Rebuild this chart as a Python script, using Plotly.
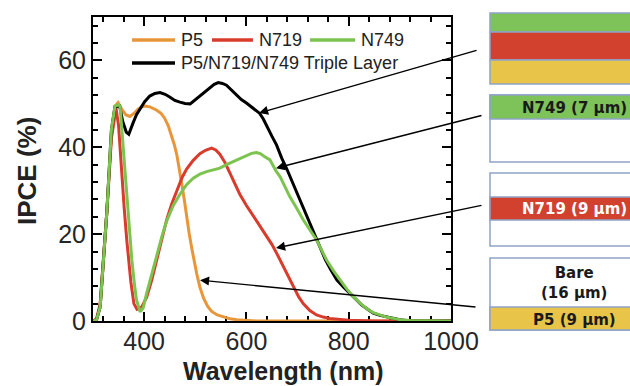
import plotly.graph_objects as go

# ---------------- data ----------------
wl_p5 = [300, 307, 314, 320, 327, 336, 343, 349, 356, 364, 372, 380, 388, 395, 402, 411, 424, 433, 440, 447, 453,
         459, 464, 469, 474, 479, 483, 488, 493, 498, 503, 509, 516, 524, 532, 543, 555, 568, 581, 600, 620, 700, 800, 900, 1000]
ipce_p5 = [0, 0.3, 3.3, 13, 25, 43, 49.5, 50.3, 48.8, 47.5, 47.1, 47.8, 48.8, 49.3, 49.5, 49.3, 48.6, 47.8, 46.7, 45.0, 42.8,
           40.6, 38.2, 35, 31.3, 27.5, 24.0, 20.2, 16.8, 13.6, 10.8, 7.8, 5.3, 3.4, 2.2, 1.4, 0.9, 0.5, 0.3, 0.1, 0, 0, 0, 0, 0]

wl_n719 = [300, 307, 314, 320, 327, 336, 345, 350, 356, 361, 366, 374, 380, 386, 395, 405, 415, 425, 435, 444, 454,
           464, 474, 483, 496, 509, 520, 532, 540, 548, 558, 568, 578, 587, 600, 613, 626, 639, 650, 660, 672, 682,
           692, 702, 711, 724, 737, 750, 763, 800, 850, 1000]
ipce_n719 = [0, 0.5, 4, 13, 25, 42, 49, 45, 34, 26, 18.7, 9, 4, 2.7, 3.2, 5.5, 9.5, 14, 19, 23.3, 27,
             30, 33, 35, 37, 38.5, 39.3, 39.8, 39.4, 38.4, 36.5, 34, 31.4, 29.2, 26.6, 24.3, 22.0, 19.6, 17.6, 15.4, 12.6, 10.1,
             7.7, 5.6, 4.0, 2.4, 1.4, 0.9, 0.6, 0.2, 0, 0]

wl_n749 = [300, 307, 314, 320, 327, 336, 343, 350, 353, 356, 361, 366, 371, 376, 381, 385, 392, 398, 405, 415, 425,
           435, 444, 457, 470, 483, 496, 509, 522, 535, 548, 561, 574, 587, 600, 610, 620, 628, 636, 646, 652, 658,
           666, 675, 685, 698, 711, 724, 737, 747, 757, 770, 783, 796, 809, 822, 835, 848, 861, 874, 887, 900, 920, 1000]
ipce_n749 = [0, 0.3, 3.3, 13, 25, 44, 49.5, 49.8, 49.5, 44.7, 37, 29.4, 21.5, 14, 8.5, 4.9, 2.1, 3, 6.4, 11, 15.6,
             19.6, 23.0, 26.6, 29.2, 31.4, 32.9, 33.8, 34.4, 34.8, 35.2, 36, 36.7, 37.5, 38.2, 38.6, 38.8, 38.5, 37.8, 37.1, 35.8, 34.5,
             33.2, 31, 28.6, 26, 23.3, 21, 18.7, 16.3, 14, 11.6, 9.4, 7.4, 5.6, 4.1, 2.9, 1.9, 1.4, 0.9, 0.6, 0.3, 0.1, 0]

wl_triple = [300, 307, 314, 320, 327, 336, 343, 352, 358, 365, 370, 378, 385, 392, 401, 411, 421, 431, 441, 450,
             460, 470, 480, 490, 500, 509, 520, 529, 537, 545, 553, 561, 571, 581, 590, 600, 613, 626, 633, 640, 650,
             659, 669, 679, 689, 698, 708, 718, 728, 737, 746, 754, 765, 777, 790, 802, 814, 825, 837, 848, 861, 874,
             886, 900, 920, 1000]
ipce_triple = [0, 0.3, 3.3, 13, 25, 44, 49.3, 49.5, 46, 43.5, 43, 45.5, 47.5, 48.8, 50.5, 51.8, 52.4, 52.6, 52.2, 51.6,
               50.8, 50.4, 50.1, 50.0, 51, 51.8, 53, 53.8, 54.5, 54.9, 54.7, 54.3, 53.2, 52.0, 51, 50.2, 49, 47.8, 46.5, 44.7, 42.5,
               40.5, 37.5, 35, 32.2, 29.5, 26.8, 24, 21.3, 18.7, 16.3, 14.2, 11.8, 9.4, 7.8, 6.4, 5, 3.7, 2.7, 1.8, 1.3, 1.0,
               0.6, 0.3, 0, 0]

series_names = ["P5", "N719", "N749", "P5/N719/N749 Triple Layer"]
x_ticks = [400, 600, 800, 1000]
y_ticks = [0, 20, 40, 60]

# layer-stack labels
stack_labels = ["N749 (7 µm)", "N719 (9 µm)", "Bare<br>(16 µm)", "P5 (9 µm)"]

# ---------------- styling ----------------
C_P5 = "#E8963A"
C_N719 = "#D73C2D"
C_N749 = "#7DC350"
C_TRIPLE = "#000000"
F_GREEN = "#7DC35A"
F_RED = "#D2412D"
F_YELLOW = "#E8C448"
BORDER = "#8FA2C6"

W, H = 630, 386
L, R, T, B = 93, 451, 17, 321  # plot area in pixels


def PX(px):
    return (px - L) / (R - L)


def PY(py):
    return (B - py) / (B - T)


fig = go.Figure()
order = [(wl_p5, ipce_p5, C_P5, series_names[0]),
         (wl_n719, ipce_n719, C_N719, series_names[1]),
         (wl_triple, ipce_triple, C_TRIPLE, series_names[3]),
         (wl_n749, ipce_n749, C_N749, series_names[2])]
for xs, ys, col, nm in order:
    fig.add_trace(go.Scatter(x=xs, y=ys, mode="lines", name=nm,
                             line=dict(color=col, width=3),
                             showlegend=False))

axis_common = dict(showline=True, linecolor="black", linewidth=2, mirror="allticks",
                   ticks="inside", ticklen=9, tickwidth=2, tickcolor="black",
                   showgrid=False, zeroline=False,
                   tickfont=dict(family="Liberation Sans, Arial", size=25, color="#262626"),
                   layer="below traces")

fig.update_xaxes(range=[300, 1000], tickvals=x_ticks, ticklabelstandoff=-3,
                 minor=dict(dtick=40, ticks="inside", ticklen=5, tickwidth=1.5, tickcolor="black", showgrid=False),
                 **axis_common)
fig.update_yaxes(range=[0, 70], tickvals=y_ticks,
                 minor=dict(dtick=4, ticks="inside", ticklen=5, tickwidth=1.5, tickcolor="black", showgrid=False),
                 **axis_common)

shapes = []
annotations = []

# ---------- manual legend ----------
legend_items = [(132, 175, 40, C_P5, series_names[0]),
                (212, 253, 40, C_N719, series_names[1]),
                (310, 355, 40, C_N749, series_names[2]),
                (132, 175, 63, C_TRIPLE, series_names[3])]
for x0, x1, yy, col, nm in legend_items:
    shapes.append(dict(type="line", xref="paper", yref="paper", x0=PX(x0), x1=PX(x1), y0=PY(yy), y1=PY(yy),
                       line=dict(color=col, width=3.5)))
    annotations.append(dict(xref="paper", yref="paper", x=PX(x1 + 4), y=PY(yy), xanchor="left", yanchor="middle",
                            text=nm, showarrow=False,
                            font=dict(family="Liberation Sans, Arial", size=18, color="#222222")))

# ---------- axis titles ----------
annotations.append(dict(xref="paper", yref="paper", x=PX(283), y=PY(386), xanchor="center", yanchor="bottom",
                        text="<b>Wavelength (nm)</b>", showarrow=False, borderpad=0,
                        font=dict(family="Liberation Sans, Arial", size=25, color="#222222")))
annotations.append(dict(xref="paper", yref="paper", x=PX(27), y=PY(171), xanchor="center", yanchor="middle",
                        text="<b>IPCE (%)</b>", showarrow=False, textangle=-90,
                        font=dict(family="Liberation Sans, Arial", size=26, color="#222222")))

# ---------- layer stack boxes ----------
BX0, BX1 = 490, 665


def rect(y0, y1, fill):
    shapes.append(dict(type="rect", xref="paper", yref="paper", x0=PX(BX0), x1=PX(BX1), y0=PY(y1), y1=PY(y0),
                       fillcolor=fill, line=dict(color=BORDER, width=1.5),
                       layer="above"))


# box 1: triple layer
rect(13, 32, F_GREEN)
rect(32, 60, F_RED)
rect(60, 84, F_YELLOW)
# box 2: N749
rect(95, 162, "white")
rect(95, 119, F_GREEN)
# box 3: N719
rect(173, 246, "white")
rect(197, 220, F_RED)
# box 4: bare + P5
rect(258, 330, "white")
rect(307, 330, F_YELLOW)

box_font = "DejaVu Sans, Verdana"
annotations.append(dict(xref="paper", yref="paper", x=PX(574), y=PY(108), text="<b>%s</b>" % stack_labels[0],
                        showarrow=False, xanchor="center", yanchor="middle",
                        font=dict(family=box_font, size=15, color="#1a1a1a")))
annotations.append(dict(xref="paper", yref="paper", x=PX(574), y=PY(209), text="<b>%s</b>" % stack_labels[1],
                        showarrow=False, xanchor="center", yanchor="middle",
                        font=dict(family=box_font, size=15, color="white")))
annotations.append(dict(xref="paper", yref="paper", x=PX(574), y=PY(283), text="<b>%s</b>" % stack_labels[2],
                        showarrow=False, xanchor="center", yanchor="middle",
                        font=dict(family=box_font, size=15, color="#1a1a1a")))
annotations.append(dict(xref="paper", yref="paper", x=PX(574), y=PY(320), text="<b>%s</b>" % stack_labels[3],
                        showarrow=False, xanchor="center", yanchor="middle",
                        font=dict(family=box_font, size=15, color="#1a1a1a")))

# ---------- arrows from boxes to curves ----------
arrows = [(624.6, 47.9, 219, -63),
          (657.8, 35.2, 207, -53),
          (657.8, 16.8, 207, -43),
          (509.2, 9.4, 277, 27)]
for hx, hy, ax, ay in arrows:
    annotations.append(dict(xref="x", yref="y", x=hx, y=hy, axref="pixel", ayref="pixel", ax=ax, ay=ay,
                            text="", showarrow=True, arrowhead=2, arrowsize=1.3, arrowwidth=1.4,
                            arrowcolor="black", standoff=0))

fig.update_layout(width=W, height=H, margin=dict(l=L, r=W - R, t=T, b=H - B),
                  paper_bgcolor="white", plot_bgcolor="white",
                  shapes=shapes, annotations=annotations, showlegend=False)

fig.write_html("out.html")
